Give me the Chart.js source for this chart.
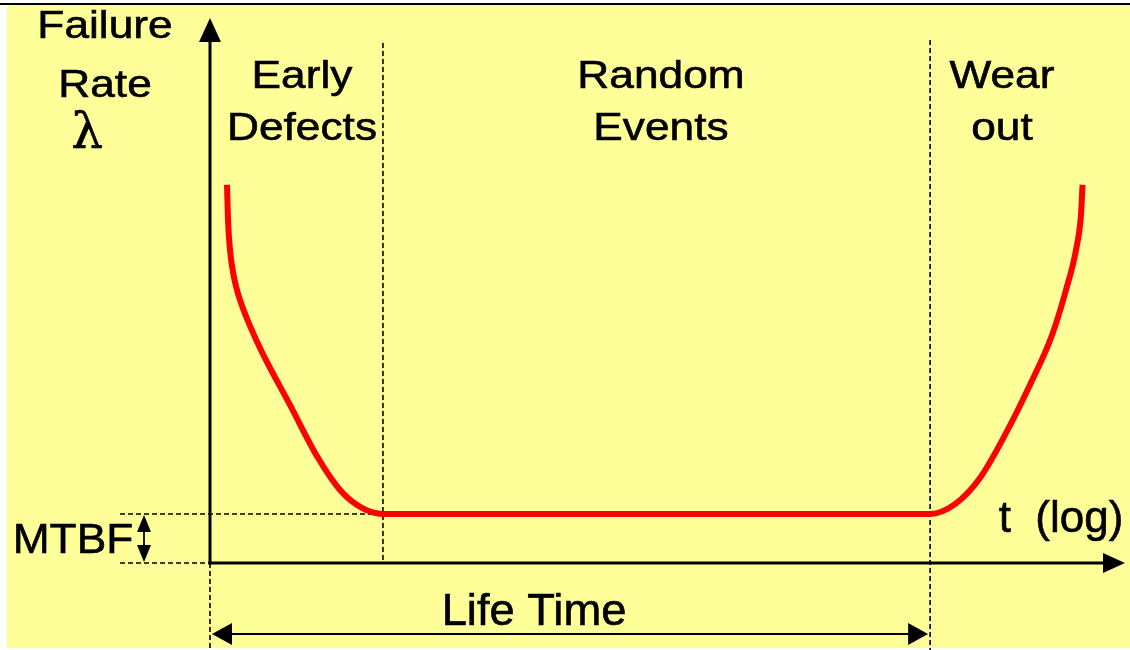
<!DOCTYPE html>
<html>
<head>
<meta charset="utf-8">
<script src="https://cdn.jsdelivr.net/npm/chart.js@4.4.1/dist/chart.umd.min.js"></script>
<style>
  html, body { margin: 0; padding: 0; background: #ffffff; }
  canvas { display: block; }
</style>
</head>
<body>
<canvas id="c" width="1130" height="650"></canvas>
<script>
// ---- data (abstract units: t on a 0..100 log-time scale, rate on a 0..100 scale) ----
const curveT    = [1.86, 1.97, 2.19, 2.51, 2.95, 3.5, 4.37, 5.68, 8.74, 11.8, 14.21, 16.61, 18.9,
                   50,
                   78.7, 81.42, 84.15, 86.89, 89.62, 92.02, 93.55, 94.64, 95.19, 95.36];
const curveRate = [69.4, 62.9, 57.4, 53.4, 50.1, 47.2, 43.5, 38.7, 29.0, 19.3, 13.4, 10.1, 9.0,
                   9.0,
                   9.0, 10.8, 15.6, 23.5, 32.7, 41.8, 50.1, 57.4, 63.9, 69.4];
const phaseBounds = [18.9, 78.7];          // t where the phases change
const mtbfLevel = 9.0;                     // flat failure-rate level
const phaseLabels = [["Early", "Defects"], ["Random", "Events"], ["Wear", "out"]];
const yAxisLabel = ["Failure", "Rate", "λ"];
const xAxisLabel = "t  (log)";
const lifeLabel = "Life Time";
const mtbfLabel = "MTBF";

const FONT = '"Liberation Sans", Arial, sans-serif';

function txt(ctx, s, cx, base, size, sx, family) {
  ctx.save();
  ctx.translate(cx, base);
  ctx.scale(sx, 1);
  ctx.font = size + 'px ' + (family || FONT);
  ctx.textAlign = 'center';
  ctx.textBaseline = 'alphabetic';
  ctx.fillStyle = '#000';
  ctx.strokeStyle = '#000';
  ctx.lineWidth = 0.6;
  ctx.fillText(s, 0, 0);
  ctx.strokeText(s, 0, 0);
  ctx.restore();
}
function tri(ctx, a, b, c) {
  ctx.beginPath(); ctx.moveTo(a[0], a[1]); ctx.lineTo(b[0], b[1]); ctx.lineTo(c[0], c[1]); ctx.closePath(); ctx.fill();
}
function line(ctx, x1, y1, x2, y2) {
  ctx.beginPath(); ctx.moveTo(x1, y1); ctx.lineTo(x2, y2); ctx.stroke();
}

const decor = {
  id: 'decor',
  beforeDraw(chart) {
    const ctx = chart.ctx;
    ctx.save();
    ctx.fillStyle = '#ffffff';
    ctx.fillRect(0, 0, chart.width, chart.height);
    ctx.fillStyle = '#ffff99';
    ctx.fillRect(7, 5, chart.width - 7, 643);
    ctx.fillStyle = '#000';
    ctx.fillRect(0, 3, chart.width, 2);
    ctx.restore();
  },
  beforeDatasetsDraw(chart) {
    const ctx = chart.ctx;
    const xs = chart.scales.x, ys = chart.scales.y;
    const x0 = xs.getPixelForValue(0), xEnd = xs.getPixelForValue(100);
    const y0 = ys.getPixelForValue(0), yTop = ys.getPixelForValue(100);
    const xa = xs.getPixelForValue(phaseBounds[0]);
    const xb = xs.getPixelForValue(phaseBounds[1]);
    const ym = ys.getPixelForValue(mtbfLevel);
    ctx.save();
    // dashed guides
    ctx.strokeStyle = '#000';
    ctx.lineWidth = 1.6;
    ctx.setLineDash([5, 3]);
    line(ctx, xa, 43, xa, y0);
    line(ctx, xb, 40, xb, chart.height);
    line(ctx, x0, y0, x0, chart.height);
    line(ctx, 120, ym, xa, ym);
    line(ctx, 120, y0, x0, y0);
    ctx.setLineDash([]);
    // axes
    ctx.strokeStyle = '#000';
    ctx.fillStyle = '#000';
    ctx.lineWidth = 3;
    line(ctx, x0, y0 + 1.5, x0, yTop + 20);
    tri(ctx, [x0, yTop], [x0 - 11, yTop + 24], [x0 + 11, yTop + 24]);
    line(ctx, x0 - 1.5, y0, xEnd - 20, y0);
    tri(ctx, [xEnd, y0], [xEnd - 22, y0 - 10], [xEnd - 22, y0 + 10]);
    // life time arrow
    const yl = 634;
    ctx.lineWidth = 2;
    line(ctx, x0 + 15, yl, xb - 15, yl);
    tri(ctx, [x0 + 2, yl], [x0 + 22, yl - 11], [x0 + 22, yl + 11]);
    tri(ctx, [xb - 2, yl], [xb - 22, yl - 11], [xb - 22, yl + 11]);
    // MTBF double arrow
    const xm = 144;
    ctx.lineWidth = 1.8;
    line(ctx, xm, ym + 10, xm, y0 - 10);
    tri(ctx, [xm, ym + 1], [xm - 7, ym + 18], [xm + 7, ym + 18]);
    tri(ctx, [xm, y0 - 1], [xm - 7, y0 - 18], [xm + 7, y0 - 18]);
    ctx.restore();
  },
  afterDraw(chart) {
    const ctx = chart.ctx;
    const s = 1.135;
    txt(ctx, yAxisLabel[0], 105, 38, 39, s);
    txt(ctx, yAxisLabel[1], 105, 97, 39, s);
    txt(ctx, yAxisLabel[2], 87, 148, 50, 1.0, '"DejaVu Serif", "Liberation Serif", serif');
    const cx = [302, 661, 1002];
    phaseLabels.forEach((pl, i) => {
      txt(ctx, pl[0], cx[i], 88, 39, s);
      txt(ctx, pl[1], cx[i], 140, 39, s);
    });
    txt(ctx, mtbfLabel, 73, 553, 43, 1.03);
    txt(ctx, lifeLabel, 534, 625, 44, 1.03);
    txt(ctx, xAxisLabel, 1061, 532, 44, 1.0);
  }
};

new Chart(document.getElementById('c'), {
  type: 'line',
  data: {
    datasets: [{
      data: curveT.map((t, i) => ({ x: t, y: curveRate[i] })),
      borderColor: '#ff0000',
      borderWidth: 6,
      pointRadius: 0,
      cubicInterpolationMode: 'monotone',
      fill: false,
      borderCapStyle: 'butt',
      borderJoinStyle: 'round'
    }]
  },
  options: {
    responsive: false,
    devicePixelRatio: 1,
    animation: false,
    layout: { padding: { left: 210, right: 5, top: 18, bottom: 87 } },
    scales: {
      x: { type: 'linear', min: 0, max: 100, display: false },
      y: { type: 'linear', min: 0, max: 100, display: false }
    },
    plugins: { legend: { display: false }, tooltip: { enabled: false } }
  },
  plugins: [decor]
});
</script>
</body>
</html>
